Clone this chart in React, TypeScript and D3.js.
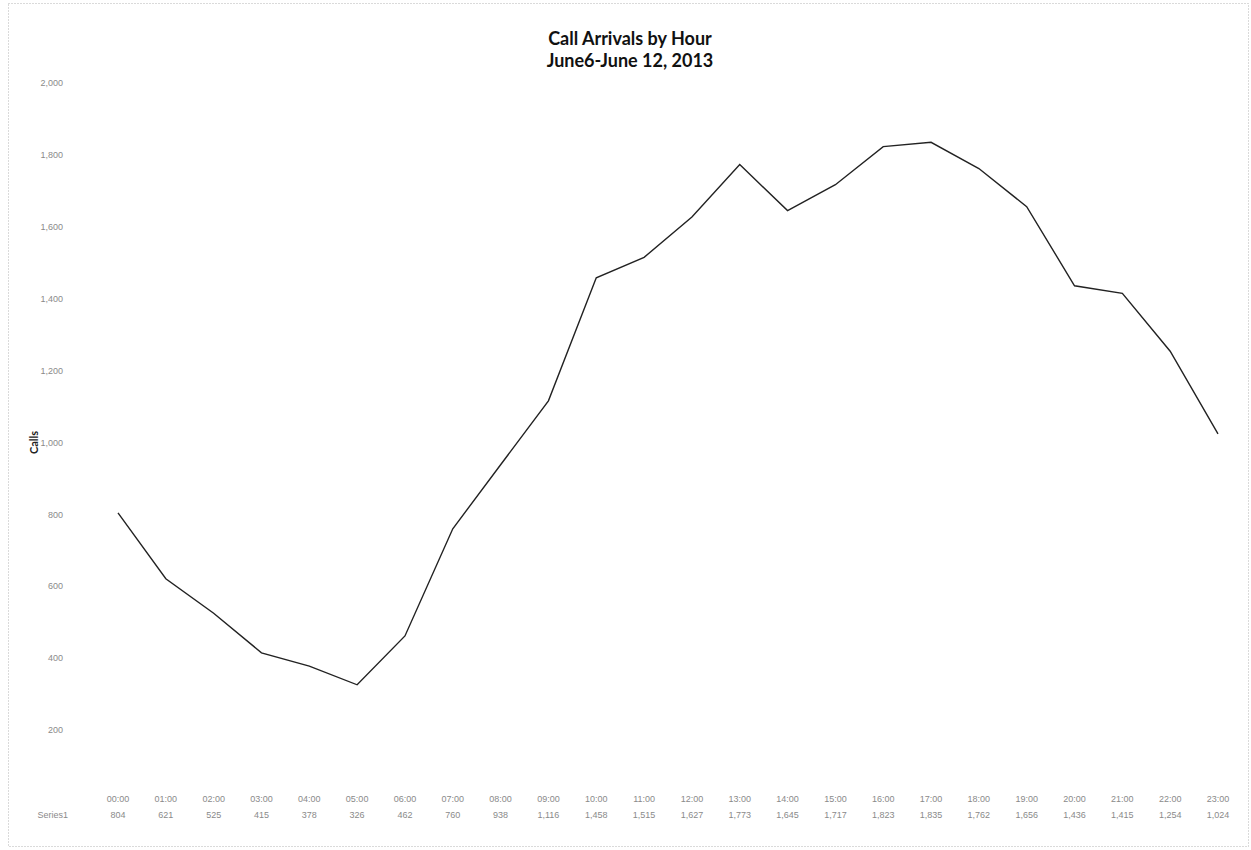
import React from "react";
import * as d3 from "d3";

const hours: string[] = [
  "00:00", "01:00", "02:00", "03:00", "04:00", "05:00", "06:00", "07:00",
  "08:00", "09:00", "10:00", "11:00", "12:00", "13:00", "14:00", "15:00",
  "16:00", "17:00", "18:00", "19:00", "20:00", "21:00", "22:00", "23:00",
];
const calls: number[] = [
  804, 621, 525, 415, 378, 326, 462, 760, 938, 1116, 1458, 1515,
  1627, 1773, 1645, 1717, 1823, 1835, 1762, 1656, 1436, 1415, 1254, 1024,
];
const yTicks: number[] = [200, 400, 600, 800, 1000, 1200, 1400, 1600, 1800, 2000];
const seriesName = "Series1";
const titleLines: string[] = ["Call Arrivals by Hour", "June6-June 12, 2013"];
const yLabel = "Calls";

export default function App() {
  const W = 1251, H = 850;
  const x = d3.scalePoint<string>().domain(hours).range([118, 1218]);
  const y = d3.scaleLinear().domain([0, 2000]).range([802, 83]);
  const line = d3.line<number>()
    .x((_, i) => x(hours[i]) as number)
    .y((d) => y(d));
  const fmt = d3.format(",");
  const grey = "#8a8a8a";
  return (
    <svg
      width={W}
      height={H}
      style={{ position: "absolute", left: 0, top: 0, background: "#fff" }}
    >
      <rect
        x={8.5}
        y={3.5}
        width={1240}
        height={843}
        fill="none"
        stroke="#b5b5b5"
        strokeWidth={1}
        strokeDasharray="1 2"
      />
      {titleLines.map((t, i) => (
        <text
          key={t}
          x={630}
          y={45 + i * 22}
          textAnchor="middle"
          fontFamily="Lato, 'Open Sans', sans-serif"
          fontWeight="bold"
          fontSize={18}
          fill="#111"
        >
          {t}
        </text>
      ))}
      <text
        transform={`translate(38,${y(1000)}) rotate(-90)`}
        textAnchor="middle"
        fontFamily="Lato, sans-serif"
        fontWeight="bold"
        fontSize={11}
        fill="#222"
      >
        {yLabel}
      </text>
      {yTicks.map((t) => (
        <text
          key={t}
          x={63}
          y={y(t)}
          dy="0.35em"
          textAnchor="end"
          fontFamily="Liberation Sans, sans-serif"
          fontSize={9}
          fill={grey}
        >
          {fmt(t)}
        </text>
      ))}
      <path d={line(calls) || ""} fill="none" stroke="#222" strokeWidth={1.4} />
      {hours.map((h) => (
        <text
          key={h}
          x={x(h)}
          y={802}
          textAnchor="middle"
          fontFamily="Liberation Sans, sans-serif"
          fontSize={9}
          fill={grey}
        >
          {h}
        </text>
      ))}
      <text
        x={68}
        y={818}
        textAnchor="end"
        fontFamily="Liberation Sans, sans-serif"
        fontSize={9}
        fill={grey}
      >
        {seriesName}
      </text>
      {calls.map((v, i) => (
        <text
          key={i}
          x={x(hours[i])}
          y={818}
          textAnchor="middle"
          fontFamily="Liberation Sans, sans-serif"
          fontSize={9}
          fill={grey}
        >
          {fmt(v)}
        </text>
      ))}
    </svg>
  );
}
